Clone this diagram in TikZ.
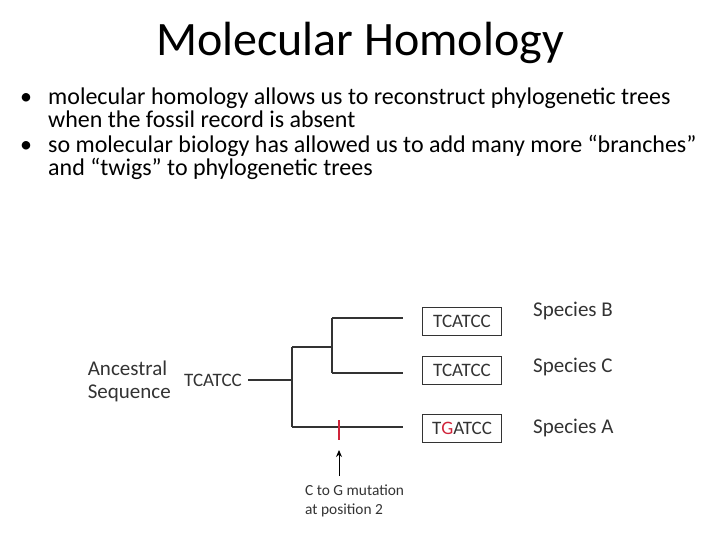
\documentclass[tikz,border=0pt]{standalone}
\usepackage{fontspec}
\setmainfont{Carlito}
\usetikzlibrary{arrows.meta}
\definecolor{treegray}{HTML}{333333}
\definecolor{mutred}{HTML}{D0243A}
\tikzset{
  bodytext/.style={font=\fontsize{24}{28}\selectfont, inner sep=0pt, anchor=base west},
  figtext/.style={font=\fontsize{21}{23}\selectfont, text=treegray, inner sep=0pt},
  branch/.style={draw=treegray, line width=1.1pt},
  seqbox/.style={draw=treegray, line width=1pt, minimum width=79pt, minimum height=28pt, inner sep=0pt, font=\fontsize{19}{20}\selectfont, text=treegray},
  small/.style={font=\fontsize{15.4}{18.5}\selectfont, text=treegray, inner sep=0pt, align=left, anchor=north west}
}
\begin{document}
\begin{tikzpicture}[x=1pt,y=-1pt]
\useasboundingbox (0,0) rectangle (720,540);
\node[font=\fontsize{48}{54}\selectfont, inner sep=0pt, anchor=base] (title) at (360,56) {Molecular Homology};
\node[bodytext] (b1) at (20,105) {•};
\node[bodytext] (l1) at (48,105) {molecular homology allows us to reconstruct phylogenetic trees};
\node[bodytext] (l2) at (48,128) {when the fossil record is absent};
\node[bodytext] (b2) at (20,153) {•};
\node[bodytext] (l3) at (48,153) {so molecular biology has allowed us to add many more “branches”};
\node[bodytext] (l4) at (48,176) {and “twigs” to phylogenetic trees};

\node[figtext, align=left, anchor=east] (anc) at (171,381) {Ancestral\\Sequence};
\node[figtext, font=\fontsize{19}{20}\selectfont] (root) at (213,380) {TCATCC};
\coordinate (j0) at (292,380);
\coordinate (j0t) at (292,347);
\coordinate (j0b) at (292,427);
\coordinate (j1) at (332,347);
\coordinate (j1t) at (332,318);
\coordinate (j1b) at (332,373);
\coordinate (eB) at (403,318);
\coordinate (eC) at (403,373);
\coordinate (eA) at (403,427);
\draw[branch] (248,380) -- (j0);
\draw[branch] (j0t) -- (j0b);
\draw[branch] (j0t) -- (j1);
\draw[branch] (j1t) -- (j1b);
\draw[branch] (j1t) -- (eB);
\draw[branch] (j1b) -- (eC);
\draw[branch] (j0b) -- (eA);

\node[seqbox] (boxB) at (462,321) {TCATCC};
\node[seqbox] (boxC) at (462,370) {TCATCC};
\node[seqbox] (boxA) at (462,428) {T{\color{mutred}G}ATCC};
\node[figtext, anchor=west] (spB) at (533,311) {Species B};
\node[figtext, anchor=west] (spC) at (533,367) {Species C};
\node[figtext, anchor=west] (spA) at (533,428) {Species A};

\coordinate (tickt) at (339,420);
\coordinate (tickb) at (339,440);
\draw[draw=mutred, line width=1.6pt] (tickt) -- (tickb);
\coordinate (arrs) at (339,476);
\coordinate (arre) at (339,450);
\draw[draw=black, line width=0.9pt, -{Stealth[length=7pt,width=6pt]}] (arrs) -- (arre);
\node[small] (mut) at (305,485) {C to G mutation\\at position 2};
\end{tikzpicture}
\end{document}
